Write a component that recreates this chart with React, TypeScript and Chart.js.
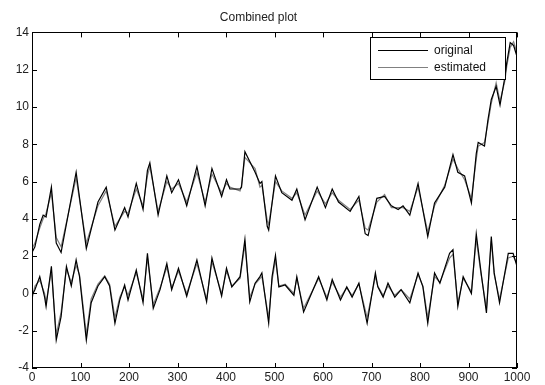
import React, { useEffect, useRef } from "react";
import { Chart, registerables } from "chart.js";

Chart.register(...registerables);

const TITLE = "Combined plot";
const LEGEND_LABELS = ["original", "estimated"];
const X_TICKS = [0, 100, 200, 300, 400, 500, 600, 700, 800, 900, 1000];
const Y_TICKS = [-4, -2, 0, 2, 4, 6, 8, 10, 12, 14];

const upperX = [0, 6, 16, 23, 29, 40, 50, 60, 91, 112, 136, 153, 171, 191, 198, 215, 229, 238, 243, 260, 278, 288, 302, 319, 340, 357, 371, 391, 401, 408, 429, 432, 439, 460, 470, 474, 485, 488, 502, 515, 536, 546, 563, 588, 605, 619, 632, 656, 674, 687, 693, 711, 727, 741, 755, 765, 779, 796, 816, 830, 851, 868, 878, 892, 906, 916, 920, 933, 940, 947, 957, 965, 975, 979, 986, 993, 1000];
const upperOriginal = [2.2, 2.5, 3.7, 4.2, 4.1, 5.7, 2.7, 2.2, 6.5, 2.4, 4.9, 5.7, 3.4, 4.6, 4.1, 5.9, 4.5, 6.6, 7.0, 4.2, 6.3, 5.4, 6.1, 4.7, 6.8, 4.7, 6.7, 5.2, 6.1, 5.6, 5.6, 5.7, 7.6, 6.5, 5.9, 6.0, 3.6, 3.4, 6.3, 5.4, 5.0, 5.6, 3.95, 5.7, 4.6, 5.6, 4.9, 4.4, 5.2, 3.2, 3.1, 5.1, 5.2, 4.7, 4.5, 4.7, 4.2, 5.9, 3.05, 4.85, 5.7, 7.45, 6.5, 6.3, 4.85, 7.5, 8.1, 7.9, 9.3, 10.4, 11.1, 10.1, 11.6, 12.4, 13.45, 13.3, 12.7];
const upperEstimated = [2.4, 2.7, 3.5, 4.0, 4.3, 5.4, 3.0, 2.5, 6.2, 2.7, 4.7, 5.5, 3.6, 4.4, 4.3, 5.6, 4.7, 6.3, 6.8, 4.4, 6.0, 5.6, 5.9, 4.9, 6.5, 4.9, 6.4, 5.4, 5.9, 5.7, 5.5, 5.8, 7.3, 6.7, 5.7, 5.8, 3.9, 3.7, 6.0, 5.5, 5.1, 5.4, 4.2, 5.5, 4.8, 5.4, 5.0, 4.5, 5.0, 3.5, 3.4, 4.9, 5.3, 4.6, 4.6, 4.6, 4.4, 5.7, 3.3, 4.7, 5.8, 7.2, 6.7, 6.1, 5.1, 7.2, 7.9, 8.1, 9.1, 10.2, 11.3, 10.3, 11.4, 12.2, 13.2, 13.5, 12.9];

const lowerX = [0, 6, 16, 26, 29, 40, 50, 60, 71, 81, 91, 98, 112, 122, 136, 150, 160, 171, 181, 191, 198, 215, 229, 238, 250, 264, 278, 288, 302, 319, 340, 360, 371, 391, 401, 412, 429, 439, 449, 460, 470, 474, 488, 495, 502, 509, 522, 540, 546, 560, 591, 608, 619, 636, 649, 660, 674, 691, 708, 713, 724, 734, 748, 761, 779, 796, 806, 816, 830, 841, 861, 868, 878, 889, 906, 916, 926, 937, 947, 953, 964, 982, 992, 1000];
const lowerOriginal = [-0.1, 0.2, 0.9, -0.2, -0.7, 1.45, -2.5, -1.25, 1.45, 0.4, 1.8, 0.9, -2.5, -0.5, 0.4, 0.9, 0.4, -1.6, -0.35, 0.45, -0.35, 1.25, -0.5, 2.15, -0.8, 0.2, 1.6, 0.2, 1.35, -0.15, 1.8, -0.45, 1.9, -0.15, 1.35, 0.35, 0.9, 2.9, -0.45, 0.55, 0.9, 1.1, -1.6, 0.9, 2.05, 0.35, 0.45, -0.1, 0.9, -1.0, 0.9, -0.35, 0.75, -0.35, 0.35, -0.2, 0.55, -1.6, 1.1, 0.35, -0.2, 0.55, -0.2, 0.2, -0.5, 1.1, 0.35, -1.6, 1.1, 0.55, 2.15, 2.35, -0.7, 0.9, 0.0, 3.2, 1.1, -1.05, 3.05, 1.1, -0.5, 2.15, 2.15, 1.45];
const lowerEstimated = [-0.3, 0.4, 0.7, 0.0, -0.5, 1.2, -2.2, -1.0, 1.3, 0.6, 1.5, 1.0, -2.2, -0.3, 0.5, 0.95, 0.5, -1.3, -0.2, 0.35, -0.1, 1.1, -0.3, 1.9, -0.6, 0.3, 1.4, 0.3, 1.2, 0.0, 1.6, -0.3, 1.7, 0.0, 1.2, 0.4, 0.8, 2.6, -0.2, 0.5, 0.8, 0.9, -1.3, 0.7, 1.8, 0.4, 0.5, 0.0, 0.8, -0.8, 0.8, -0.2, 0.6, -0.2, 0.3, -0.1, 0.5, -1.3, 0.9, 0.4, -0.1, 0.4, -0.1, 0.2, -0.3, 1.0, 0.4, -1.3, 0.9, 0.6, 1.9, 2.1, -0.5, 0.8, 0.1, 2.9, 1.0, -0.8, 2.8, 1.0, -0.3, 1.9, 2.0, 1.6];

const ORIGINAL_COLOR = "#000000";
const ESTIMATED_COLOR = "#808080";
const FONT_FAMILY = "'Liberation Sans', Arial, sans-serif";

const toPoints = (xs: number[], ys: number[]) => xs.map((x, i) => ({ x, y: ys[i] }));

const frameTicks = {
  id: "frameTicks",
  afterDraw(chart: any) {
    const { ctx, chartArea: a, scales } = chart;
    ctx.save();
    ctx.strokeStyle = "#000";
    ctx.lineWidth = 1;
    ctx.strokeRect(Math.round(a.left) + 0.5, Math.round(a.top) + 0.5, Math.round(a.width) - 1, Math.round(a.height) - 1);
    const len = 5;
    ctx.beginPath();
    X_TICKS.forEach((v) => {
      const px = Math.round(scales.x.getPixelForValue(v)) + 0.5;
      ctx.moveTo(px, a.bottom);
      ctx.lineTo(px, a.bottom - len);
      ctx.moveTo(px, a.top);
      ctx.lineTo(px, a.top + len);
    });
    Y_TICKS.forEach((v) => {
      const py = Math.round(scales.y.getPixelForValue(v)) + 0.5;
      ctx.moveTo(a.left, py);
      ctx.lineTo(a.left + len, py);
      ctx.moveTo(a.right, py);
      ctx.lineTo(a.right - len, py);
    });
    ctx.stroke();
    ctx.restore();
  },
};

const boxLegend = {
  id: "boxLegend",
  afterDraw(chart: any) {
    const { ctx } = chart;
    const left = 370.5, top = 37.5, right = 505.5, bottom = 79.5;
    ctx.save();
    ctx.fillStyle = "#fff";
    ctx.fillRect(left, top, right - left, bottom - top);
    ctx.strokeStyle = "#000";
    ctx.lineWidth = 1;
    ctx.strokeRect(left, top, right - left, bottom - top);
    ctx.font = `12px ${FONT_FAMILY}`;
    ctx.textBaseline = "middle";
    ctx.textAlign = "left";
    const rows = [50, 67];
    chart.data.datasets.slice(0, 2).forEach((ds: any, i: number) => {
      const y = rows[i] + 0.5;
      ctx.strokeStyle = ds.borderColor;
      ctx.beginPath();
      ctx.moveTo(378, y);
      ctx.lineTo(428, y);
      ctx.stroke();
      ctx.fillStyle = "#111";
      ctx.fillText(ds.label, 434, y);
    });
    ctx.restore();
  },
};

export default function App() {
  const ref = useRef<HTMLCanvasElement | null>(null);
  useEffect(() => {
    if (!ref.current) return;
    const chart = new Chart(ref.current, {
      type: "line",
      data: {
        datasets: [
          { label: LEGEND_LABELS[0], data: toPoints(upperX, upperOriginal), borderColor: ORIGINAL_COLOR, borderWidth: 1.2, pointRadius: 0, tension: 0, fill: false },
          { label: LEGEND_LABELS[1], data: toPoints(upperX, upperEstimated), borderColor: ESTIMATED_COLOR, borderWidth: 1.2, pointRadius: 0, tension: 0, fill: false },
          { label: LEGEND_LABELS[0] + " (2)", data: toPoints(lowerX, lowerOriginal), borderColor: ORIGINAL_COLOR, borderWidth: 1.2, pointRadius: 0, tension: 0, fill: false },
          { label: LEGEND_LABELS[1] + " (2)", data: toPoints(lowerX, lowerEstimated), borderColor: ESTIMATED_COLOR, borderWidth: 1.2, pointRadius: 0, tension: 0, fill: false },
        ],
      },
      options: {
        responsive: false,
        animation: false,
        layout: { padding: { left: 0, right: 28, top: 0, bottom: 0 } },
        plugins: {
          legend: { display: false },
          tooltip: { enabled: false },
          title: {
            display: true,
            text: TITLE,
            color: "#222",
            font: { family: FONT_FAMILY, size: 12, weight: "normal" },
            padding: { top: 10, bottom: 8 },
          },
        },
        scales: {
          x: {
            type: "linear",
            min: 0,
            max: 1000,
            afterBuildTicks: (s: any) => { s.ticks = X_TICKS.map((v) => ({ value: v })); },
            afterFit: (s: any) => { s.height = 17; },
            grid: { display: false, drawTicks: false },
            border: { display: false },
            ticks: { color: "#222", padding: 2, maxRotation: 0, autoSkip: false, font: { family: FONT_FAMILY, size: 12 }, callback: (v: any) => String(v) },
          },
          y: {
            type: "linear",
            min: -4,
            max: 14,
            afterBuildTicks: (s: any) => { s.ticks = Y_TICKS.map((v) => ({ value: v })); },
            afterFit: (s: any) => { s.width = 32; },
            grid: { display: false, drawTicks: false },
            border: { display: false },
            ticks: { color: "#222", padding: 3, autoSkip: false, font: { family: FONT_FAMILY, size: 12 }, callback: (v: any) => String(v) },
          },
        },
      },
      plugins: [frameTicks, boxLegend],
    } as any);
    return () => chart.destroy();
  }, []);
  return (
    <div style={{ position: "fixed", left: 0, top: 0, width: 545, height: 385, background: "#fff" }}>
      <canvas ref={ref} width={545} height={385} style={{ display: "block" }} />
    </div>
  );
}
